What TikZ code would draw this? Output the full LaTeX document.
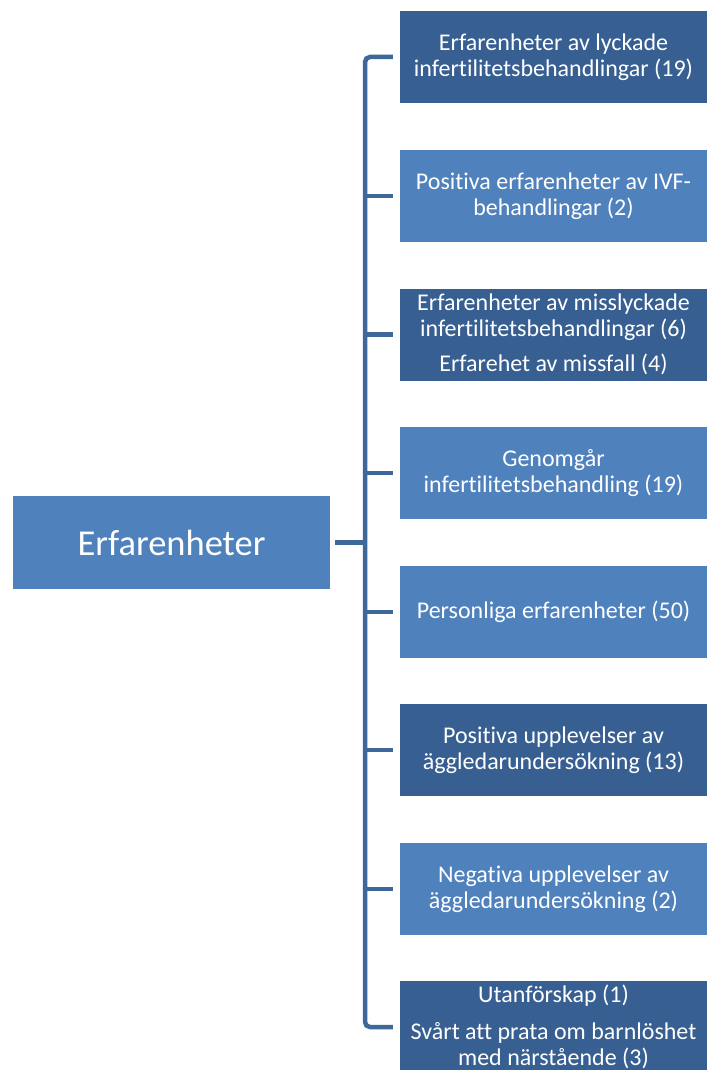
\documentclass[tikz,border=0pt]{standalone}
\usepackage{fontspec}
\setmainfont{Carlito}[RawFeature={-liga;-clig;-calt;-dlig}]
\definecolor{darkbox}{HTML}{375F92}
\definecolor{lightbox}{HTML}{4F81BD}
\definecolor{linkblue}{HTML}{3D6899}

\begin{document}
\begin{tikzpicture}[x=1pt,y=-1pt,
    box/.style={inner sep=0pt,minimum width=307pt,minimum height=92pt,text=white,align=center,
        font=\fontsize{24}{26}\selectfont},
    dark/.style={box,fill=darkbox},
    light/.style={box,fill=lightbox},
    link/.style={draw=linkblue,line width=4.5pt}]
        \clip (0,0) rectangle (707,1070);
        \node[light,minimum width=317pt,minimum height=93pt,font=\fontsize{36.5}{40}\selectfont] (root) at (171.5,542.5) {Erfarenheter};
        \node[dark] (b1) at (553.5,57) {Erfarenheter av lyckade\\infertilitetsbehandlingar (19)};
        \node[light] (b2) at (553.5,196) {Positiva erfarenheter av IVF-\\behandlingar (2)};
        \node[dark] (b3) at (553.5,334.5) {Erfarenheter av misslyckade\\infertilitetsbehandlingar (6)\\[9pt]Erfarehet av missfall (4)};
        \node[light] (b4) at (553.5,473) {Genomgår\\infertilitetsbehandling (19)};
        \node[light] (b5) at (553.5,612) {Personliga erfarenheter (50)};
        \node[dark] (b6) at (553.5,750) {Positiva upplevelser av\\äggledarundersökning (13)};
        \node[light] (b7) at (553.5,889) {Negativa upplevelser av\\äggledarundersökning (2)};
        \node[dark] (b8) at (553.5,1027) {Utanförskap (1)\\[11pt]Svårt att prata om barnlöshet\\med närstående (3)};
        \coordinate (spine) at (365,0);
        % the bracket on the right side
        \draw[link,rounded corners=5pt] ([xshift=-7pt]b1.west) -| (spine |- b8.west) -- ([xshift=-7pt]b8.west);
        \draw[link] ([xshift=-7pt]b2.west) -- (spine |- b2.west);
        \draw[link] ([xshift=-7pt]b3.west) -- (spine |- b3.west);
        \draw[link] ([xshift=-7pt]b4.west) -- (spine |- b4.west);
        \draw[link] ([xshift=-7pt]b5.west) -- (spine |- b5.west);
        \draw[link] ([xshift=-7pt]b6.west) -- (spine |- b6.west);
        \draw[link] ([xshift=-7pt]b7.west) -- (spine |- b7.west);
        \draw[link] ([xshift=5pt]root.east) -- (spine |- root.east);
\end{tikzpicture}
\end{document}
